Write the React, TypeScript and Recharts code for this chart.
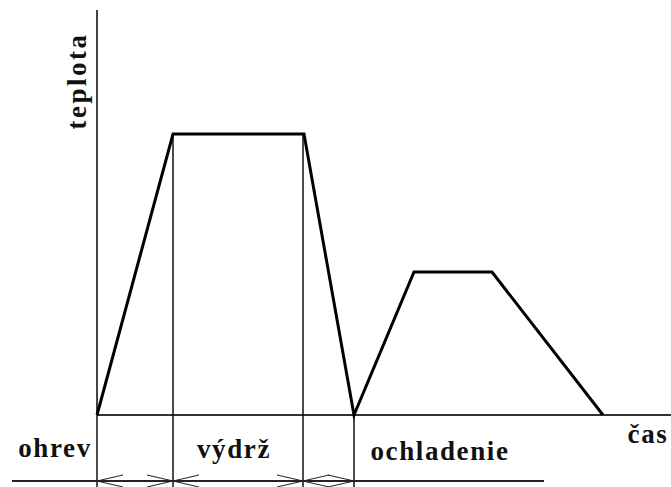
import React from 'react';
import { LineChart, Line, XAxis, YAxis, ReferenceLine, ReferenceDot } from 'recharts';

// Heat-treatment cycle: time breakpoints and the temperature at each of them
const time = [0, 76, 207, 257, 317, 395, 506];
const temperature = [0, 281, 281, 0, 143, 143, 0];

// Phase boundaries on the time axis and the phase names between them
const phaseBounds = [0, 76, 206, 257];
const phaseNames = ['ohrev', 'výdrž', 'ochladenie'];

const axisNames = { x: 'čas', y: 'teplota' };

const data = time.map((t, i) => ({ t, temp: temperature[i] }));

// Layout
const W = 671;
const H = 487;
const margin = { top: 10, right: 0, bottom: 72, left: 97 };
const X_MAX = 574;
const Y_MAX = 405;
const RULER_Y = -66;
const RULER_BOTTOM = -75;
const RULER_FROM = -85;
const RULER_TO = 447;
const HEAD_LEN = 26;
const HEAD_HALF = 6;

const phaseLabelPos = [
  { x: -42, y: -42 },
  { x: 137, y: -43 },
  { x: 343, y: -45 },
];
const xNamePos = { x: 551, y: -28 };
const yNamePos = { x: -11, y: 334 };

const serifFamily = 'Liberation Serif';

const textShape = (text: string, rotated = false) => (props: any) => {
  const { cx, cy } = props;
  return (
    <text
      x={cx}
      y={cy}
      textAnchor="middle"
      transform={rotated ? `rotate(-90 ${cx} ${cy})` : undefined}
      fontFamily={serifFamily}
      fontWeight="bold"
      fontSize={27}
      letterSpacing={rotated ? 2.5 : 1.6}
      fill="#111"
    >
      {text}
    </text>
  );
};

const thin = { stroke: '#111', strokeWidth: 1.5 };
const head = { stroke: '#222', strokeWidth: 1 };

export default function App() {
  const spans = phaseBounds.slice(0, -1).map((a, i) => [a, phaseBounds[i + 1]]);

  return (
    <div style={{ position: 'absolute', left: 0, top: 0, width: W, height: H, background: '#fff', fontFamily: serifFamily }}>
      <LineChart width={W} height={H} data={data} margin={margin}>
        <XAxis type="number" dataKey="t" domain={[0, X_MAX]} hide />
        <YAxis type="number" domain={[0, Y_MAX]} hide />

        {/* axes */}
        <ReferenceLine
          segment={[{ x: 0, y: 0 }, { x: X_MAX, y: 0 }]}
          ifOverflow="visible"
          stroke="#333"
          strokeWidth={2}
        />
        <ReferenceLine
          segment={[{ x: 0, y: 0 }, { x: 0, y: Y_MAX }]}
          ifOverflow="visible"
          stroke="#444"
          strokeWidth={2}
        />

        {/* phase boundaries dropped down to the ruler */}
        {phaseBounds.map((b) => {
          const i = time.indexOf(b);
          const top = i >= 0 ? temperature[i] : Math.max(...temperature);
          return (
            <ReferenceLine
              key={`b-${b}`}
              segment={[{ x: b, y: top }, { x: b, y: RULER_BOTTOM }]}
              ifOverflow="visible"
              {...thin}
            />
          );
        })}

        {/* ruler line */}
        <ReferenceLine
          segment={[{ x: RULER_FROM, y: RULER_Y }, { x: RULER_TO, y: RULER_Y }]}
          ifOverflow="visible"
          stroke="#222"
          strokeWidth={2}
        />

        {/* double-headed arrows spanning each phase */}
        {spans.map(([a, b]) =>
          [
            [a, a + HEAD_LEN, HEAD_HALF],
            [a, a + HEAD_LEN, -HEAD_HALF],
            [b, b - HEAD_LEN, HEAD_HALF],
            [b, b - HEAD_LEN, -HEAD_HALF],
          ].map(([p, q, d], k) => (
            <ReferenceLine
              key={`h-${a}-${b}-${k}`}
              segment={[{ x: p, y: RULER_Y }, { x: q, y: RULER_Y + d }]}
              ifOverflow="visible"
              {...head}
            />
          ))
        )}

        <Line
          type="linear"
          dataKey="temp"
          stroke="#000"
          strokeWidth={3}
          strokeLinejoin="miter"
          dot={false}
          activeDot={false}
          isAnimationActive={false}
        />

        {phaseNames.map((name, i) => (
          <ReferenceDot
            key={name}
            x={phaseLabelPos[i].x}
            y={phaseLabelPos[i].y}
            r={0}
            ifOverflow="visible"
            shape={textShape(name)}
          />
        ))}
        <ReferenceDot x={xNamePos.x} y={xNamePos.y} r={0} ifOverflow="visible" shape={textShape(axisNames.x)} />
        <ReferenceDot x={yNamePos.x} y={yNamePos.y} r={0} ifOverflow="visible" shape={textShape(axisNames.y, true)} />
      </LineChart>
    </div>
  );
}
